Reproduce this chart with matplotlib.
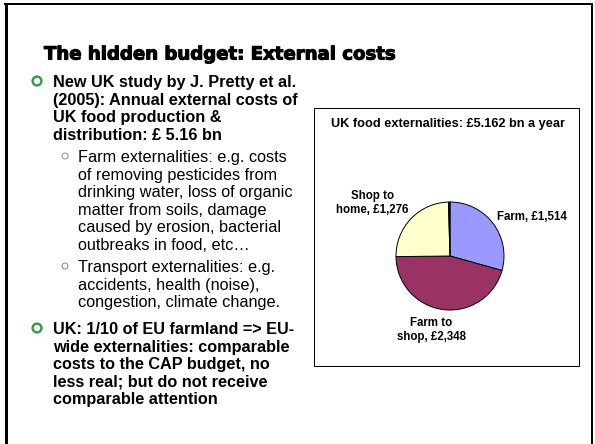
import matplotlib
matplotlib.use("Agg")
import matplotlib.pyplot as plt
from matplotlib.patches import Circle, Rectangle
import matplotlib.patheffects as pe

# ---- data ----
slide_title = "The hidden budget: External costs"
chart_title = "UK food externalities: £5.162 bn a year"
categories = ["Farm", "Farm to\nshop", "Shop to\nhome", "Other"]
values = [1514, 2348, 1276, 24]
show_label = [True, True, True, False]
colors = ["#9999FF", "#993366", "#FFFFCC", "#000080"]

bullet1 = ["New UK study by J. Pretty et al.",
           "(2005): Annual external costs of",
           "UK food production &",
           "distribution: £ 5.16 bn"]
sub1 = ["Farm externalities: e.g. costs",
        "of removing pesticides from",
        "drinking water, loss of organic",
        "matter from soils, damage",
        "caused by erosion, bacterial",
        "outbreaks in food, etc…"]
sub2 = ["Transport externalities: e.g.",
        "accidents, health (noise),",
        "congestion, climate change."]
bullet2 = ["UK: 1/10 of EU farmland => EU-",
           "wide externalities: comparable",
           "costs to the CAP budget, no",
           "less real; but do not receive",
           "comparable attention"]

W, H = 595, 444
fig = plt.figure(figsize=(W / 100, H / 100), dpi=100)
fig.patch.set_facecolor("white")
bg = fig.add_axes([0, 0, 1, 1])
bg.set_xlim(0, W)
bg.set_ylim(H, 0)
bg.axis("off")

PX = 0.72  # points per pixel
# slide frame (no bottom edge)
bg.plot([5.5, 5.5], [H + 5, 3.5], color="black", lw=3 * PX, solid_capstyle="butt")
bg.plot([4, 593], [4, 4], color="black", lw=2 * PX, solid_capstyle="butt")
bg.plot([592, 592], [3, H + 5], color="black", lw=2 * PX, solid_capstyle="butt")

renderer = fig.canvas.get_renderer()


def fit(t, width_px):
    bb = t.get_window_extent(renderer)
    t.set_fontsize(t.get_fontsize() * width_px / bb.width)


# slide title (heavy look)
tt = bg.text(44, 59.5, slide_title, fontsize=17, fontweight="bold",
             family="DejaVu Sans", va="baseline", ha="left", color="black",
             path_effects=[pe.withStroke(linewidth=0.8, foreground="black")])
fit(tt, 352)

BODY_FS = 11.7
LS = 17.6


def para(lines, x, y0, bold, bullet):
    for i, s in enumerate(lines):
        bg.text(x, y0 + 6 + i * LS, s, fontsize=BODY_FS,
                fontweight="bold" if bold else "normal",
                family="Liberation Sans", va="baseline", ha="left", color="black")
    bx, kind = bullet
    if kind == "main":
        bg.add_patch(Circle((bx, y0), 4.4, facecolor="none", edgecolor="#2EA043",
                            lw=2.4 * PX))
    else:
        bg.add_patch(Circle((bx, y0), 3.0, facecolor="white", edgecolor="#8C8C8C",
                            lw=1.0 * PX))


para(bullet1, 53, 81, True, (37, "main"))
para(sub1, 78, 156, False, (65, "sub"))
para(sub2, 78, 266, False, (65, "sub"))
para(bullet2, 53, 328, True, (37, "main"))

# chart box
bg.add_patch(Rectangle((314, 108), 579 - 314, 366 - 108, facecolor="white",
                       edgecolor="black", lw=1.0 * PX))
ct = bg.text(448, 127, chart_title, fontsize=9.2, fontweight="bold",
             family="Liberation Sans", va="baseline", ha="center")
fit(ct, 234)

# pie
cx, cy, R = 450, 256, 54
pax = fig.add_axes([(cx - R) / W, 1 - (cy + R) / H, 2 * R / W, 2 * R / H])
wedges, _ = pax.pie(values, colors=colors, startangle=90, counterclock=False,
                    radius=1, wedgeprops=dict(edgecolor="black", linewidth=0.7))
pax.set_xlim(-1, 1)
pax.set_ylim(-1, 1)
pax.axis("off")

label_pos = [(1.52, 0.72), (-0.35, -1.37), (-1.44, 0.98), None]
for cat, v, show, pos in zip(categories, values, show_label, label_pos):
    if not show:
        continue
    pax.text(pos[0], pos[1], f"{cat}, £{v:,}", fontsize=8.3, fontweight="bold",
             family="Liberation Sans", ha="center", va="center", clip_on=False,
             linespacing=1.15)

fig.savefig("out.png", dpi=100, facecolor="white")
